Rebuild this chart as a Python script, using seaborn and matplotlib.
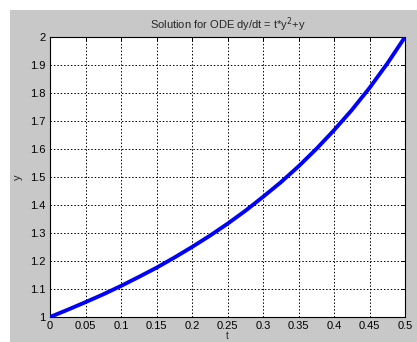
import matplotlib
matplotlib.use("Agg")
import matplotlib.pyplot as plt
import seaborn as sns
import pandas as pd
from matplotlib.patches import Rectangle

t_vals = [0.0, 0.025, 0.05, 0.075, 0.1, 0.125, 0.15, 0.175, 0.2, 0.225,
          0.25, 0.275, 0.3, 0.325, 0.35, 0.375, 0.4, 0.425, 0.45, 0.475, 0.5]
y_vals = [1.0, 1.026, 1.053, 1.081, 1.111, 1.143, 1.176, 1.212, 1.25, 1.29,
          1.333, 1.379, 1.429, 1.481, 1.538, 1.6, 1.667, 1.739, 1.818, 1.905, 2.0]
x_ticks = [0, 0.05, 0.1, 0.15, 0.2, 0.25, 0.3, 0.35, 0.4, 0.45, 0.5]
x_ticklabels = ["0", "0.05", "0.1", "0.15", "0.2", "0.25", "0.3", "0.35", "0.4", "0.45", "0.5"]
y_ticks = [1, 1.1, 1.2, 1.3, 1.4, 1.5, 1.6, 1.7, 1.8, 1.9, 2]
y_ticklabels = ["1", "1.1", "1.2", "1.3", "1.4", "1.5", "1.6", "1.7", "1.8", "1.9", "2"]

sns.set_style("white")
plt.rcParams['font.family'] = ['Liberation Sans', 'DejaVu Sans']

W, H = 417, 342
fig = plt.figure(figsize=(W / 100, H / 100), dpi=100)
fig.patch.set_facecolor("white")
fig.patches.append(Rectangle((10 / W, 0), 1 - 10 / W, 1 - 10 / H, transform=fig.transFigure,
                             facecolor="#c8c8c8", edgecolor="none", zorder=-10))

left, right, top, bottom = 50, 405, 37, 317
ax = fig.add_axes([left / W, (H - bottom) / H, (right - left) / W, (bottom - top) / H])
ax.set_facecolor("white")

df = pd.DataFrame({"t": t_vals, "y": y_vals})
sns.lineplot(data=df, x="t", y="y", ax=ax, color="#0000ff", linewidth=2.8, zorder=5)

ax.set_xlim(0, 0.5)
ax.set_ylim(1, 2)
ax.set_xticks(x_ticks)
ax.set_xticklabels(x_ticklabels)
ax.set_yticks(y_ticks)
ax.set_yticklabels(y_ticklabels)
ax.grid(True, color="black", linestyle=(0, (1.5, 2)), linewidth=0.7)
ax.tick_params(direction="in", length=3, width=0.7, labelsize=8, colors="black",
               top=True, right=True, pad=3)
for s in ax.spines.values():
    s.set_visible(True)
    s.set_color("black")
    s.set_linewidth(0.8)

ax.set_title("Solution for ODE dy/dt = t*y$^2$+y", fontsize=8, pad=6)
ax.set_xlabel("t", fontsize=7, labelpad=0)
ax.set_ylabel("y", fontsize=8, labelpad=5)

fig.savefig("out.png", dpi=100)
